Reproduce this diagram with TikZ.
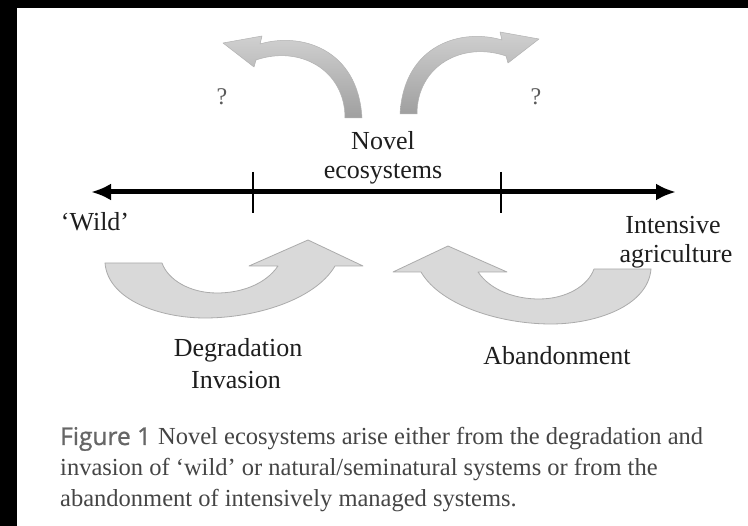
\documentclass[tikz,border=0pt]{standalone}
\usepackage{fontspec}
\setmainfont{Liberation Serif}
\newfontfamily\capsans{Open Sans}[FakeBold=1]
\usetikzlibrary{arrows.meta}
\definecolor{txt}{HTML}{1E1E1E}
\definecolor{captxt}{HTML}{454545}
\definecolor{figgray}{HTML}{666666}
\definecolor{bigfill}{HTML}{D9D9D9}
\definecolor{bigedge}{HTML}{ABABAB}
\definecolor{qgray}{HTML}{5A5A5A}
\tikzset{
  lbl/.style={font=\fontsize{26}{31}\selectfont, text=txt, inner sep=0pt, anchor=base},
  qmark/.style={font=\fontsize{24}{28}\selectfont, text=qgray, inner sep=0pt, anchor=base},
  capline/.style={font=\fontsize{24.5}{31}\selectfont, text=captxt, inner sep=0pt, anchor=base west},
  bigarrow/.style={fill=bigfill, draw=bigedge, line width=0.8pt, line join=round},
  smallarrow/.style={top color=gray!35, bottom color=gray!75, draw=gray!60, line width=0.5pt, line join=round},
  axisline/.style={line width=5pt, {Latex[length=20pt,width=17pt]}-{Latex[length=20pt,width=17pt]}},
  tickline/.style={line width=2.2pt},
  curvedup/.pic={
    \path[bigarrow] (105,263) .. controls (108,300) and (160,318) .. (205,318)
      .. controls (255,318) and (315,300) .. (335,266)
      -- (363,266) -- (308,240) -- (249,266) -- (278,266)
      .. controls (265,285) and (240,293) .. (217,293)
      .. controls (190,293) and (168,280) .. (162,263) -- cycle;
  },
  curvedleft/.pic={
    \path[smallarrow] (223,43) -- (262,36) -- (260,44)
      .. controls (300,32) and (358,48) .. (362,118)
      -- (345,118)
      .. controls (345,70) and (300,45) .. (256,60)
      -- (254,67) -- cycle;
  }
}
\begin{document}
\begin{tikzpicture}[x=1pt,y=-1pt]
  \useasboundingbox (0,0) rectangle (748,526);
  \fill[white] (0,0) rectangle (748,526);
  \fill[black] (0,0) rectangle (748,8);
  \fill[black] (0,0) rectangle (17,526);

  % top curved arrows
  \pic at (0,0) {curvedleft};
  \pic[xscale=-1] at (762,-4) {curvedleft};
  \node[qmark] (q1) at (222,105) {?};
  \node[qmark] (q2) at (536,105) {?};

  % labels
  \node[lbl] (novel) at (383,150) {Novel};
  \node[lbl] (eco) at (383,179) {ecosystems};
  \node[lbl] (wild) at (95,231) {`Wild'};
  \node[lbl] (inten) at (673,234) {Intensive};
  \node[lbl] (agri) at (676,263) {agriculture};

  % axis
  \coordinate (L) at (91,192);
  \coordinate (R) at (676,192);
  \draw[axisline] (L) -- (R);
  \coordinate (t1a) at (253,172); \coordinate (t1b) at (253,213);
  \coordinate (t2a) at (501,172); \coordinate (t2b) at (501,213);
  \draw[tickline] (t1a) -- (t1b);
  \draw[tickline] (t2a) -- (t2b);

  % bottom curved arrows
  \pic at (0,0) {curvedup};
  \pic[xscale=-1] at (756,6) {curvedup};

  \node[lbl] (deg) at (238,357) {Degradation};
  \node[lbl] (inv) at (236,389) {Invasion};
  \node[lbl] (aban) at (557,365) {Abandonment};

  % caption
  \node[capline] (c1) at (60,445) {{\capsans\color{figgray}Figure 1}\hspace{7pt}Novel ecosystems arise either from the degradation and};
  \node[capline] (c2) at (60,476) {invasion of `wild' or natural/seminatural systems or from the};
  \node[capline] (c3) at (60,507) {abandonment of intensively managed systems.};
\end{tikzpicture}
\end{document}
